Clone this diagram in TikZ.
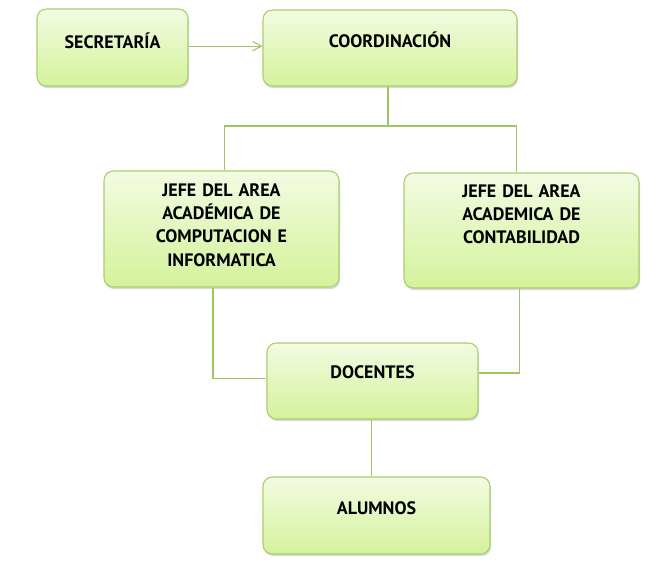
\documentclass[tikz,border=0pt]{standalone}
\usepackage{fontspec}
\setmainfont{PT Sans}
\usepackage{tikz}
\usetikzlibrary{shadows, calc, arrows.meta}

\definecolor{verdeclaro}{RGB}{243,251,226}
\definecolor{verdefondo}{RGB}{212,242,155}
\definecolor{verdeborde}{RGB}{170,206,110}
\definecolor{verdelinea}{RGB}{160,196,96}

\begin{document}
\begin{tikzpicture}[
        x=0.75pt, y=-0.75pt,
        cargo/.style={
            rectangle, rounded corners=7pt,
            draw=verdeborde, line width=0.8pt,
            top color=verdeclaro, bottom color=verdefondo,
            drop shadow={shadow xshift=0.8pt, shadow yshift=-1.6pt, opacity=0.3},
            inner sep=0pt, align=center,
            font=\fontsize{13.5}{17.5}\selectfont\bfseries
        },
        linea/.style={draw=verdelinea, line width=0.8pt},
        flecha/.style={linea, -{Straight Barb[length=6.5pt, width=7pt]}}
    ]
        \useasboundingbox (0,0) rectangle (672,564);

        \node[cargo, text width=113.25pt, minimum height=57.75pt,
              text height=29.25pt, text depth=28.5pt] (secre) at (112.5,47.5) {
            SECRETARÍA
        };

        \node[cargo, text width=190.5pt, minimum height=57pt,
              text height=27.75pt, text depth=29.25pt] (coord) at (390,48) {
            COORDINACIÓN
        };

        \node[cargo, text width=176.25pt, minimum height=87pt,
              text height=18.75pt, text depth=68.25pt] (jefeA) at (221.5,229) {
            JEFE DEL AREA\\ ACADÉMICA DE\\ COMPUTACION E\\ INFORMATICA
        };

        \node[cargo, text width=176.25pt, minimum height=86.25pt,
              text height=18pt, text depth=68.25pt] (jefeB) at (521.5,230.5) {
            JEFE DEL AREA\\ ACADEMICA DE\\ CONTABILIDAD
        };

        \node[cargo, text width=158.25pt, minimum height=57pt,
              text height=26.25pt, text depth=30.75pt] (docen) at (372.5,381) {
            DOCENTES
        };

        \node[cargo, text width=170.25pt, minimum height=57.75pt,
              text height=27.75pt, text depth=30pt] (alum) at (376.5,515.5) {
            ALUMNOS
        };

        % conexiones
        \coordinate (rama) at (388,126);

        \draw[flecha] ([yshift=1pt]secre.east) -- ([yshift=1pt]secre.east -| coord.west);
        \draw[linea] (coord.south -| rama) -- (rama);
        \draw[linea] ([xshift=2pt]jefeA.north) |- (rama) -| ([xshift=-4pt]jefeB.north);
        \draw[linea] ([xshift=-6.4pt]jefeA.south) |- ([yshift=2.2pt]docen.west);
        \draw[linea] ([xshift=-1.2pt]jefeB.south) |- ([yshift=6pt]docen.east);
        \draw[linea] ([xshift=-1pt]docen.south) -- ([xshift=-1pt]docen.south |- alum.north);
    \end{tikzpicture}
\end{document}
